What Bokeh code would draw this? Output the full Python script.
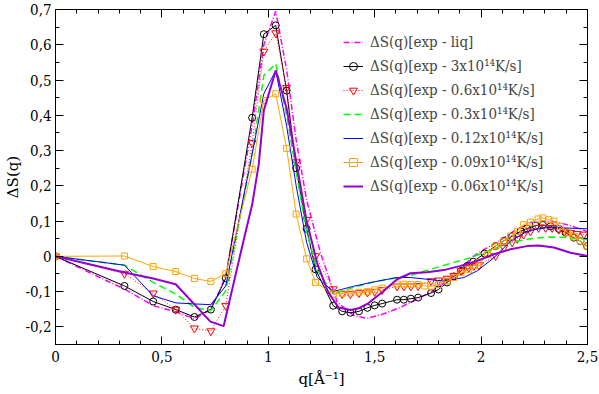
from bokeh.plotting import figure
from bokeh.models import (LinearAxis, FixedTicker, CustomJSTickFormatter, Legend,
                          LegendItem, Range1d)
from bokeh.embed import file_html
from bokeh.resources import INLINE

# ---------------- data ----------------
q_liq = [0, 0.324, 0.459, 0.565, 0.653, 0.72, 0.77, 0.80, 0.924, 0.979, 1.035, 1.086, 1.131,
         1.18, 1.245, 1.324, 1.402, 1.465, 1.543, 1.62, 1.684, 1.762, 1.84, 1.906, 1.963,
         2.03, 2.083, 2.15, 2.23, 2.295, 2.36, 2.43, 2.5]
s_liq = [0, -0.093, -0.140, -0.157, -0.177, -0.154, -0.100, -0.055, 0.37, 0.60, 0.695, 0.53, 0.33,
         0.16, 0.010, -0.130, -0.168, -0.176, -0.163, -0.145, -0.126, -0.102, -0.070, -0.035, 0.0,
         0.025, 0.043, 0.070, 0.095, 0.100, 0.097, 0.085, 0.070]

q_3 = [0, 0.324, 0.459, 0.565, 0.653, 0.73, 0.80, 0.924, 0.979, 1.035, 1.086, 1.131, 1.18,
       1.222, 1.305, 1.347, 1.386, 1.426, 1.466, 1.50, 1.535, 1.605, 1.637, 1.67, 1.704,
       1.765, 1.80, 1.84, 1.872, 1.906, 1.935, 1.963, 2.016, 2.068, 2.107, 2.146, 2.185,
       2.216, 2.256, 2.29, 2.326, 2.365, 2.397, 2.436, 2.467, 2.498]
s_3 = [0, -0.084, -0.128, -0.151, -0.172, -0.151, -0.062, 0.393, 0.630, 0.655, 0.47, 0.250, 0.078,
       -0.037, -0.140, -0.156, -0.160, -0.156, -0.146, -0.139, -0.134, -0.123, -0.123, -0.120, -0.117,
       -0.104, -0.094, -0.074, -0.057, -0.041, -0.027, -0.015, 0.008, 0.029, 0.044, 0.057, 0.071,
       0.079, 0.087, 0.089, 0.085, 0.078, 0.067, 0.053, 0.043, 0.029]

q_06 = [0, 0.324, 0.459, 0.565, 0.653, 0.73, 0.80, 0.924, 0.979, 1.035, 1.086, 1.131, 1.18,
        1.222, 1.305, 1.347, 1.386, 1.426, 1.466, 1.50, 1.535, 1.605, 1.637, 1.67, 1.704,
        1.765, 1.80, 1.84, 1.872, 1.906, 1.942, 1.966, 1.99, 2.068, 2.107, 2.146, 2.17,
        2.20, 2.232, 2.27, 2.303, 2.334, 2.365, 2.392, 2.42, 2.451, 2.483]
s_06 = [0, -0.049, -0.105, -0.151, -0.204, -0.212, -0.140, 0.322, 0.581, 0.633, 0.478, 0.267, 0.104,
        0.001, -0.093, -0.107, -0.107, -0.104, -0.102, -0.100, -0.095, -0.085, -0.085, -0.085, -0.084,
        -0.070, -0.068, -0.063, -0.055, -0.041, -0.032, -0.027, -0.025, 0.001, 0.025, 0.040, 0.050,
        0.062, 0.071, 0.081, 0.081, 0.081, 0.076, 0.071, 0.067, 0.064, 0.062]

q_03 = [0, 0.324, 0.459, 0.565, 0.653, 0.73, 0.80, 0.924, 0.979, 1.035, 1.086, 1.131, 1.18,
        1.23, 1.305, 1.40, 1.50, 1.605, 1.668, 1.762, 1.856, 1.95, 2.044, 2.138, 2.232,
        2.326, 2.405, 2.5]
s_03 = [0, -0.025, -0.074, -0.107, -0.145, -0.154, -0.098, 0.29, 0.513, 0.546, 0.40, 0.24, 0.07,
        -0.04, -0.107, -0.088, -0.072, -0.060, -0.054, -0.037, -0.020, -0.004, 0.018, 0.039, 0.050,
        0.055, 0.053, 0.048]

q_012 = [0, 0.324, 0.459, 0.565, 0.653, 0.73, 0.80, 0.924, 0.979, 1.035, 1.086, 1.131, 1.18,
         1.23, 1.305, 1.40, 1.50, 1.605, 1.668, 1.746, 1.825, 1.919, 1.982, 2.06, 2.138,
         2.216, 2.295, 2.373, 2.5]
s_012 = [0, -0.025, -0.112, -0.132, -0.135, -0.137, -0.084, 0.29, 0.461, 0.527, 0.37, 0.20, 0.04,
         -0.06, -0.100, -0.085, -0.072, -0.060, -0.060, -0.065, -0.070, -0.060, -0.041, -0.004, 0.043,
         0.071, 0.081, 0.081, 0.078]

q_009 = [0, 0.324, 0.459, 0.565, 0.653, 0.73, 0.80, 0.924, 0.979, 1.035, 1.086, 1.131, 1.18,
         1.222, 1.305, 1.347, 1.386, 1.426, 1.466, 1.50, 1.535, 1.605, 1.637, 1.67, 1.704,
         1.735, 1.765, 1.80, 1.84, 1.872, 1.906, 1.942, 1.966, 1.99, 2.03, 2.068, 2.107,
         2.138, 2.17, 2.20, 2.232, 2.268, 2.29, 2.318, 2.342, 2.373, 2.405, 2.436, 2.467, 2.498]
s_009 = [0, 0.001, -0.029, -0.043, -0.063, -0.071, -0.049, 0.247, 0.442, 0.461, 0.306, 0.120, -0.007,
         -0.074, -0.107, -0.105, -0.104, -0.102, -0.100, -0.095, -0.090, -0.079, -0.079, -0.080, -0.080,
         -0.084, -0.085, -0.080, -0.070, -0.060, -0.046, -0.037, -0.025, -0.018, 0.005, 0.029, 0.043,
         0.057, 0.071, 0.090, 0.097, 0.106, 0.109, 0.104, 0.100, 0.085, 0.067, 0.055, 0.043, 0.029]

q_006 = [0, 0.324, 0.459, 0.565, 0.728, 0.79, 0.885, 0.924, 0.955, 0.979, 1.035, 1.086, 1.131,
         1.18, 1.23, 1.28, 1.33, 1.386, 1.426, 1.465, 1.535, 1.605, 1.668, 1.746, 1.825,
         1.903, 1.982, 2.06, 2.138, 2.216, 2.27, 2.342, 2.42, 2.5]
s_006 = [0, -0.046, -0.063, -0.079, -0.185, -0.198, 0.048, 0.146, 0.26, 0.414, 0.527, 0.42, 0.27,
         0.10, -0.02, -0.10, -0.145, -0.152, -0.147, -0.135, -0.102, -0.065, -0.048, -0.045, -0.039,
         -0.027, -0.013, 0.006, 0.020, 0.029, 0.031, 0.025, 0.010, 0.001]

labels = ["ΔS(q)[exp - liq]",
          "ΔS(q)[exp - 3x10¹⁴K/s]",
          "ΔS(q)[exp - 0.6x10¹⁴K/s]",
          "ΔS(q)[exp - 0.3x10¹⁴K/s]",
          "ΔS(q)[exp - 0.12x10¹⁴K/s]",
          "ΔS(q)[exp - 0.09x10¹⁴K/s]",
          "ΔS(q)[exp - 0.06x10¹⁴K/s]"]

x_ticks = [0, 0.5, 1, 1.5, 2, 2.5]
y_ticks = [-0.2, -0.1, 0, 0.1, 0.2, 0.3, 0.4, 0.5, 0.6, 0.7]

# ---------------- figure ----------------
FONT_TICK = "DejaVu Serif Condensed"
FONT = "DejaVu Serif"
p = figure(width=599, height=394, output_backend="svg", toolbar_location=None,
           x_range=Range1d(0, 2.5), y_range=Range1d(-0.25, 0.7),
           min_border_left=55, min_border_right=12, min_border_top=9, min_border_bottom=50,
           x_axis_label="q[Å⁻¹]", y_axis_label="ΔS(q)")
p.xgrid.visible = False
p.ygrid.visible = False
p.outline_line_color = "black"
p.outline_line_width = 1

bottom_ax = p.below[0]
left_ax = p.left[0]

fmt = CustomJSTickFormatter(code="return (Math.round(tick*10)/10).toString().replace('.', ',');")
blank = CustomJSTickFormatter(code="return '';")

x_minor = [i / 10 for i in range(0, 26)]
y_minor = [-0.25 + i * 0.05 for i in range(0, 20)]
xt = FixedTicker(ticks=x_ticks, minor_ticks=x_minor)
yt = FixedTicker(ticks=y_ticks, minor_ticks=y_minor)

top_ax = LinearAxis(ticker=xt, formatter=blank)
right_ax = LinearAxis(ticker=yt, formatter=blank)
p.add_layout(top_ax, "above")
p.add_layout(right_ax, "right")

bottom_ax.ticker = xt
left_ax.ticker = yt
bottom_ax.formatter = fmt
left_ax.formatter = fmt

for ax in [bottom_ax, left_ax, top_ax, right_ax]:
    ax.major_tick_in = 8
    ax.major_tick_out = 0
    ax.minor_tick_in = 4
    ax.minor_tick_out = 0
    ax.axis_line_color = "black"
    ax.major_tick_line_color = "black"
    ax.minor_tick_line_color = "black"
    ax.major_label_text_font = FONT_TICK
    ax.major_label_text_font_size = "15px"
    ax.major_label_text_color = "black"
    ax.axis_label_text_font = FONT
    ax.axis_label_text_font_size = "15px"
    ax.axis_label_text_font_style = "normal"
    ax.axis_label_text_color = "black"
for ax in [top_ax, right_ax]:
    ax.major_label_standoff = 0
    ax.major_label_text_font_size = "0px"
bottom_ax.major_label_standoff = 6
bottom_ax.axis_label_standoff = 5
left_ax.major_label_standoff = 4
left_ax.axis_label_standoff = 0

# ---------------- series ----------------
r_liq = p.line(q_liq, s_liq, line_color="#FF00FF", line_width=1.5, line_dash="6 2 1 2")

r3l = p.line(q_3, s_3, line_color="black", line_width=1)
r3m = p.scatter(q_3, s_3, marker="circle", size=7, line_color="black", fill_color=None)

r06l = p.line(q_06, s_06, line_color="#FF0000", line_width=1, line_dash="1 2")
r06m = p.scatter(q_06, s_06, marker="inverted_triangle", size=8, line_color="#FF0000",
                 fill_color=None)

r03 = p.line(q_03, s_03, line_color="#00FF00", line_width=1.5, line_dash="7 4")
r012 = p.line(q_012, s_012, line_color="#0000FF", line_width=1)

r009l = p.line(q_009, s_009, line_color="#FFA500", line_width=1)
r009m = p.scatter(q_009, s_009, marker="square", size=6, line_color="#FFA500", fill_color=None)

r006 = p.line(q_006, s_006, line_color="#9400D3", line_width=2)

items = [LegendItem(label=labels[0], renderers=[r_liq]),
         LegendItem(label=labels[1], renderers=[r3l, r3m]),
         LegendItem(label=labels[2], renderers=[r06l, r06m]),
         LegendItem(label=labels[3], renderers=[r03]),
         LegendItem(label=labels[4], renderers=[r012]),
         LegendItem(label=labels[5], renderers=[r009l, r009m]),
         LegendItem(label=labels[6], renderers=[r006])]
legend = Legend(items=items, location=(288, 148), padding=0, margin=0, spacing=4,
                glyph_width=20, glyph_height=20, label_height=20, label_standoff=7,
                label_text_font=FONT_TICK, label_text_font_size="15px",
                background_fill_alpha=0, border_line_alpha=0)
p.add_layout(legend, "center")

open("out.html", "w").write(file_html(p, INLINE))
